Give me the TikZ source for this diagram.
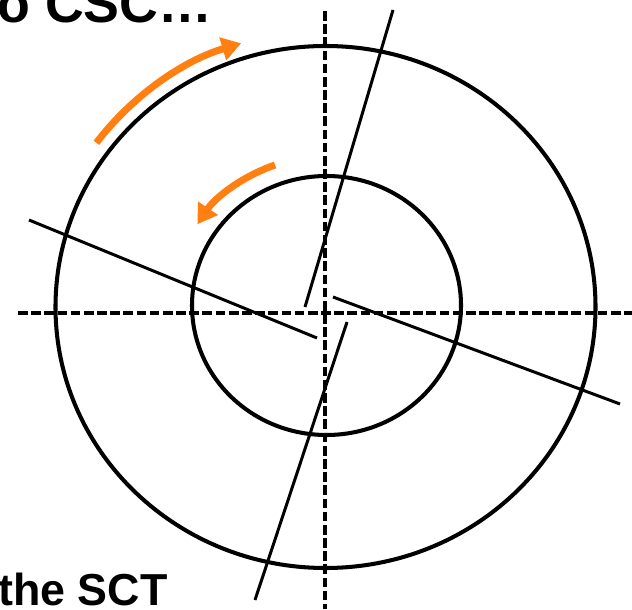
\documentclass[tikz,border=0pt]{standalone}
\usepackage{fontspec}
\setmainfont{Liberation Sans}
\usetikzlibrary{arrows.meta}
\definecolor{ink}{HTML}{000000}
\definecolor{flow}{HTML}{FF7F11}

\begin{document}
\begin{tikzpicture}[
  x=0.02cm,y=0.02cm,
  >={Triangle[length=11pt,width=13pt]},
  every node/.style={inner sep=0pt,anchor=base west},
  ring/.style={draw=ink,line width=2.3pt},
  axis/.style={draw=ink,line width=2pt,dash pattern=on 5.5pt off 2pt},
  cut/.style={draw=ink,line width=1.7pt},
  spin/.style={->,draw=flow,line width=4pt}
]
\useasboundingbox (0,0) rectangle (632,609);
% dashed axes
\draw[axis] (18,296) -- (632,296);
\draw[axis,line width=1.8pt] (325,598) -- (325,0);
% outer and inner rings
\draw[ring] (325.5,302) ellipse [x radius=270,y radius=261];
\draw[ring] (326.5,303.5) ellipse [x radius=134.5,y radius=129.5];
% offset cut lines
\draw[cut] (393,599) -- (305,302);
\draw[cut] (347,287) -- (255,9);
\draw[cut] (29,389) -- (317,271);
\draw[cut] (333,312) -- (620,205);
% rotation arrows
\draw[spin] (96.4,466.2) arc[start angle=143.5,end angle=107.2,x radius=285,y radius=276];
\draw[spin] (275.1,444.0) arc[start angle=109.5,end angle=147,x radius=154,y radius=149];
% clipped captions
\node[font=\fontsize{30.6}{36}\selectfont\bfseries] (toplabel) at (-3,586) {o CSC…};
\node[font=\fontsize{25.5}{30}\selectfont\bfseries] (bottomlabel) at (-2,4) {the SCT};
\end{tikzpicture}
\end{document}
